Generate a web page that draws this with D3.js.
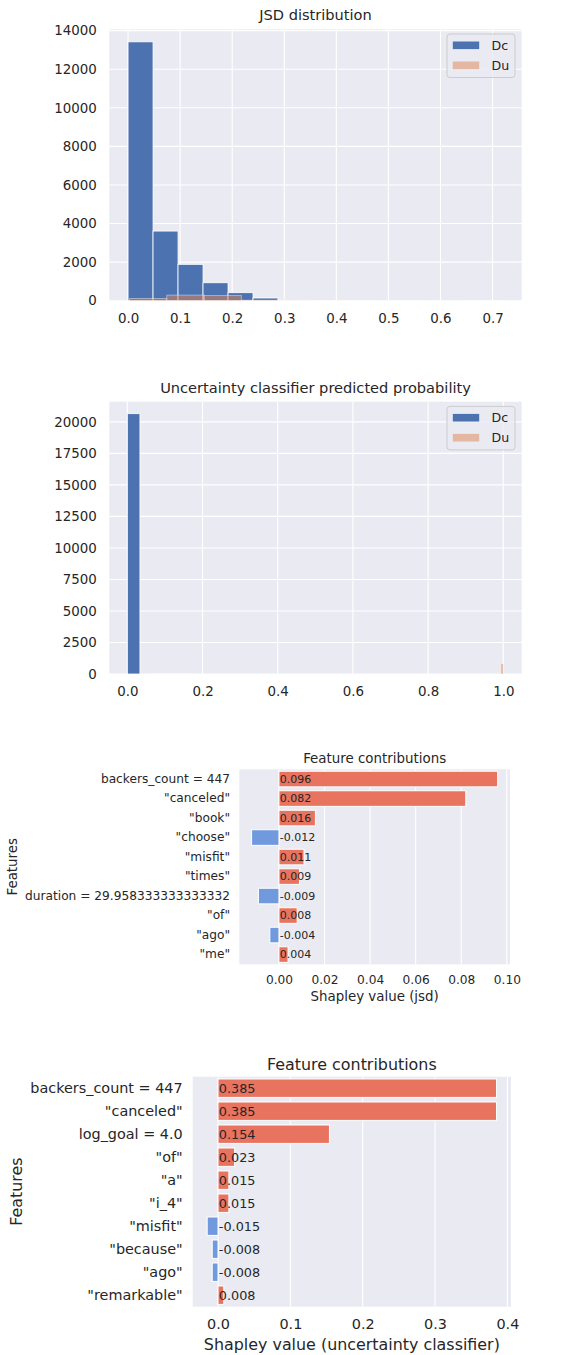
<!DOCTYPE html>
<html lang="en">
  <head>
    <meta charset="UTF-8" />
    <title>JSD and Shapley contributions</title>
    <style>
      body { margin: 0; background: #ffffff; }
      svg { display: block; font-family: "DejaVu Sans", sans-serif; }
      .tick line { display: none; }
      .domain { display: none; }
    </style>
  </head>

  <body>

    <div id="chart"></div>

    <script src="https://d3js.org/d3.v7.min.js"></script>

    <script>

    // ---- data ----

    // panel 1: JSD histogram
    var jsdDcStart = 0.0, jsdDcWidth = 0.048;
    var jsdDc = [13420, 3610, 1885, 930, 415, 140, 45, 15, 6, 2];
    var jsdDuStart = 0.003, jsdDuWidth = 0.0715;
    var jsdDu = [110, 290, 265, 25, 10, 4, 2, 1, 0, 1];
    var jsdXTicks = [0, 0.1, 0.2, 0.3, 0.4, 0.5, 0.6, 0.7];
    var jsdYTicks = [0, 2000, 4000, 6000, 8000, 10000, 12000, 14000];

    // panel 2: uncertainty classifier probability histogram
    var probDcStart = 0.0, probDcWidth = 0.0335;
    var probDc = [20650, 6, 3, 2, 1];
    var probDuStart = 0.9935, probDuWidth = 0.0065;
    var probDu = [820];
    var probXTicks = [0, 0.2, 0.4, 0.6, 0.8, 1.0];
    var probYTicks = [0, 2500, 5000, 7500, 10000, 12500, 15000, 17500, 20000];

    var seriesNames = ["Dc", "Du"];

    // panel 3: shapley values for jsd
    var jsdFeatures = ["backers_count = 447", "\"canceled\"", "\"book\"", "\"choose\"", "\"misfit\"",
                       "\"times\"", "duration = 29.958333333333332", "\"of\"", "\"ago\"", "\"me\""];
    var jsdShap = [0.096, 0.082, 0.016, -0.012, 0.011, 0.009, -0.009, 0.008, -0.004, 0.004];
    var jsdShapTicks = [0, 0.02, 0.04, 0.06, 0.08, 0.10];

    // panel 4: shapley values for the uncertainty classifier
    var clsFeatures = ["backers_count = 447", "\"canceled\"", "log_goal = 4.0", "\"of\"", "\"a\"",
                       "\"i_4\"", "\"misfit\"", "\"because\"", "\"ago\"", "\"remarkable\""];
    var clsShap = [0.385, 0.385, 0.154, 0.023, 0.015, 0.015, -0.015, -0.008, -0.008, 0.008];
    var clsShapTicks = [0, 0.1, 0.2, 0.3, 0.4];

    // ---- styling ----
    var bg = "#eaeaf2";
    var ink = "#262626";
    var blue = "#4c72b0";
    var orange = "#dd8452";
    var posColor = "#e8735f";
    var negColor = "#7099de";

    var svg = d3.select("#chart")
                .append("svg")
                .attr("width", 571)
                .attr("height", 1355);

    svg.append("rect").attr("width", 571).attr("height", 1355).attr("fill", "#ffffff");

    //draws a histogram panel with two overlapping series
    function histPanel(o) {
      var g = svg.append("g");

      var x = d3.scaleLinear().domain(o.xDomain).range([o.left, o.right]);
      var y = d3.scaleLinear().domain(o.yDomain).range([o.bottom, o.top]);

      g.append("rect")
       .attr("x", o.left).attr("y", o.top)
       .attr("width", o.right - o.left).attr("height", o.bottom - o.top)
       .attr("fill", bg);

      // grid
      g.append("g").selectAll("line").data(o.xTicks).enter().append("line")
       .attr("x1", function(d) { return x(d); }).attr("x2", function(d) { return x(d); })
       .attr("y1", o.top).attr("y2", o.bottom)
       .attr("stroke", "#ffffff").attr("stroke-width", 1.1);
      g.append("g").selectAll("line").data(o.yTicks).enter().append("line")
       .attr("y1", function(d) { return y(d); }).attr("y2", function(d) { return y(d); })
       .attr("x1", o.left).attr("x2", o.right)
       .attr("stroke", "#ffffff").attr("stroke-width", 1.1);

      // Dc bars
      g.append("g").selectAll("rect").data(o.dc).enter().append("rect")
       .attr("x", function(d, i) { return x(o.dcStart + i * o.dcWidth); })
       .attr("width", function(d, i) { return x(o.dcStart + (i + 1) * o.dcWidth) - x(o.dcStart + i * o.dcWidth); })
       .attr("y", function(d) { return y(d); })
       .attr("height", function(d) { return y(0) - y(d); })
       .attr("fill", blue)
       .attr("stroke", "#ffffff").attr("stroke-width", 0.8);

      // Du bars, half transparent
      g.append("g").selectAll("rect").data(o.du).enter().append("rect")
       .attr("x", function(d, i) { return x(o.duStart + i * o.duWidth); })
       .attr("width", function(d, i) { return x(o.duStart + (i + 1) * o.duWidth) - x(o.duStart + i * o.duWidth); })
       .attr("y", function(d) { return y(d); })
       .attr("height", function(d) { return y(0) - y(d); })
       .attr("fill", orange).attr("fill-opacity", 0.5)
       .attr("stroke", "#ffffff").attr("stroke-opacity", 0.5).attr("stroke-width", 0.8);

      // axes
      var xAxis = d3.axisBottom(x).tickValues(o.xTicks).tickFormat(d3.format(".1f"))
                    .tickSize(0).tickPadding(0);
      g.append("g")
       .attr("transform", "translate(0," + o.bottom + ")")
       .call(xAxis)
       .call(function(a) {
         a.selectAll("text").attr("y", o.xLabelY - o.bottom).attr("dy", "0.35em")
          .attr("fill", ink).style("font-size", "13.4px").style("font-family", "DejaVu Sans");
       });

      var yAxis = d3.axisLeft(y).tickValues(o.yTicks).tickFormat(d3.format("d"))
                    .tickSize(0).tickPadding(12.5);
      g.append("g")
       .attr("transform", "translate(" + o.left + ",0)")
       .call(yAxis)
       .call(function(a) {
         a.selectAll("text").attr("fill", ink).style("font-size", "13.4px").style("font-family", "DejaVu Sans");
       });

      // title
      g.append("text")
       .attr("x", (o.left + o.right) / 2).attr("y", o.titleY).attr("dy", "0.35em")
       .attr("text-anchor", "middle").attr("fill", ink)
       .style("font-size", "14.6px")
       .text(o.title);

      // legend
      var lg = g.append("g").attr("transform", "translate(447," + (o.top + 4.7) + ")");
      lg.append("rect")
        .attr("width", 68).attr("height", 43.5).attr("rx", 3)
        .attr("fill", bg).attr("fill-opacity", 0.8)
        .attr("stroke", "#cccccc").attr("stroke-width", 1);
      var legColors = [{c: blue, a: 1}, {c: orange, a: 0.5}];
      lg.selectAll(".item").data(seriesNames).enter().append("g")
        .attr("class", "item")
        .attr("transform", function(d, i) { return "translate(0," + (11.3 + i * 20) + ")"; })
        .each(function(d, i) {
          d3.select(this).append("rect")
            .attr("x", 5.8).attr("y", -3.8).attr("width", 26.4).attr("height", 7.6)
            .attr("fill", legColors[i].c).attr("fill-opacity", legColors[i].a);
          d3.select(this).append("text")
            .attr("x", 44.5).attr("dy", "0.35em").attr("fill", ink)
            .style("font-size", "12.6px")
            .text(d);
        });
    }

    //draws a horizontal bar panel of shapley values
    function shapPanel(o) {
      var g = svg.append("g");

      var x = d3.scaleLinear().domain(o.xDomain).range([o.left, o.right]);
      var y = d3.scaleBand().domain(o.features).range([o.top, o.bottom])
                .paddingInner(0.2).paddingOuter(0.1);

      g.append("rect")
       .attr("x", o.left).attr("y", o.top)
       .attr("width", o.right - o.left).attr("height", o.bottom - o.top)
       .attr("fill", bg);

      // vertical grid only
      g.append("g").selectAll("line").data(o.xTicks).enter().append("line")
       .attr("x1", function(d) { return x(d); }).attr("x2", function(d) { return x(d); })
       .attr("y1", o.top).attr("y2", o.bottom)
       .attr("stroke", "#ffffff").attr("stroke-width", 1.1);

      var rows = o.features.map(function(f, i) { return {f: f, v: o.values[i]}; });

      g.append("g").selectAll("rect").data(rows).enter().append("rect")
       .attr("x", function(d) { return x(Math.min(0, d.v)); })
       .attr("width", function(d) { return Math.abs(x(d.v) - x(0)); })
       .attr("y", function(d) { return y(d.f); })
       .attr("height", y.bandwidth())
       .attr("fill", function(d) { return d.v >= 0 ? posColor : negColor; })
       .attr("stroke", "#ffffff").attr("stroke-width", 1);

      // value labels start at zero
      g.append("g").selectAll("text").data(rows).enter().append("text")
       .attr("x", x(0) + 0.8)
       .attr("y", function(d) { return y(d.f) + y.bandwidth() / 2; })
       .attr("dy", "0.35em").attr("fill", ink)
       .style("font-size", o.valueSize + "px")
       .text(function(d) { return d.v.toFixed(3); });

      var xAxis = d3.axisBottom(x).tickValues(o.xTicks).tickFormat(d3.format(o.fmt))
                    .tickSize(0).tickPadding(0);
      g.append("g")
       .attr("transform", "translate(0," + o.bottom + ")")
       .call(xAxis)
       .call(function(a) {
         a.selectAll("text").attr("y", o.xLabelY - o.bottom).attr("dy", "0.35em")
          .attr("fill", ink).style("font-size", o.tickSize + "px").style("font-family", "DejaVu Sans");
       });

      var yAxis = d3.axisLeft(y).tickSize(0).tickPadding(o.yPad);
      g.append("g")
       .attr("transform", "translate(" + o.left + ",0)")
       .call(yAxis)
       .call(function(a) {
         a.selectAll("text").attr("fill", ink).style("font-size", o.tickSize + "px").style("font-family", "DejaVu Sans");
       });

      g.append("text")
       .attr("x", (o.left + o.right) / 2).attr("y", o.titleY).attr("dy", "0.35em")
       .attr("text-anchor", "middle").attr("fill", ink)
       .style("font-size", o.labelSize + "px")
       .text("Feature contributions");

      g.append("text")
       .attr("x", (o.left + o.right) / 2).attr("y", o.xTitleY).attr("dy", "0.35em")
       .attr("text-anchor", "middle").attr("fill", ink)
       .style("font-size", o.labelSize + "px")
       .text(o.xTitle);

      g.append("text")
       .attr("transform", "translate(" + o.yTitleX + "," + ((o.top + o.bottom) / 2) + ") rotate(-90)")
       .attr("dy", "0.35em")
       .attr("text-anchor", "middle").attr("fill", ink)
       .style("font-size", o.labelSize + "px")
       .text("Features");
    }

    histPanel({
      left: 109.3, right: 521.7, top: 29.3, bottom: 300.7,
      xDomain: [-0.036, 0.756], yDomain: [0, 14070],
      xTicks: jsdXTicks, yTicks: jsdYTicks,
      dc: jsdDc, dcStart: jsdDcStart, dcWidth: jsdDcWidth,
      du: jsdDu, duStart: jsdDuStart, duWidth: jsdDuWidth,
      xLabelY: 318.3, titleY: 15,
      title: "JSD distribution"
    });

    histPanel({
      left: 109.3, right: 521.7, top: 401.7, bottom: 674,
      xDomain: [-0.048, 1.049], yDomain: [0, 21600],
      xTicks: probXTicks, yTicks: probYTicks,
      dc: probDc, dcStart: probDcStart, dcWidth: probDcWidth,
      du: probDu, duStart: probDuStart, duWidth: probDuWidth,
      xLabelY: 691.7, titleY: 388.3,
      title: "Uncertainty classifier predicted probability"
    });

    shapPanel({
      left: 239.3, right: 510, top: 769.3, bottom: 964.3,
      xDomain: [-0.0174, 0.1014],
      features: jsdFeatures, values: jsdShap, xTicks: jsdShapTicks, fmt: ".2f",
      tickSize: 12.2, labelSize: 13.4, valueSize: 11, yPad: 9.3,
      titleY: 758.3, xLabelY: 979.3, xTitleY: 996.7, yTitleX: 12.7,
      xTitle: "Shapley value (jsd)"
    });

    shapPanel({
      left: 192.7, right: 511, top: 1076.7, bottom: 1306.7,
      xDomain: [-0.035, 0.405],
      features: clsFeatures, values: clsShap, xTicks: clsShapTicks, fmt: ".1f",
      tickSize: 14.4, labelSize: 15.9, valueSize: 12.8, yPad: 10,
      titleY: 1064, xLabelY: 1324, xTitleY: 1344, yTitleX: 16.7,
      xTitle: "Shapley value (uncertainty classifier)"
    });

    </script>
  </body>
</html>
